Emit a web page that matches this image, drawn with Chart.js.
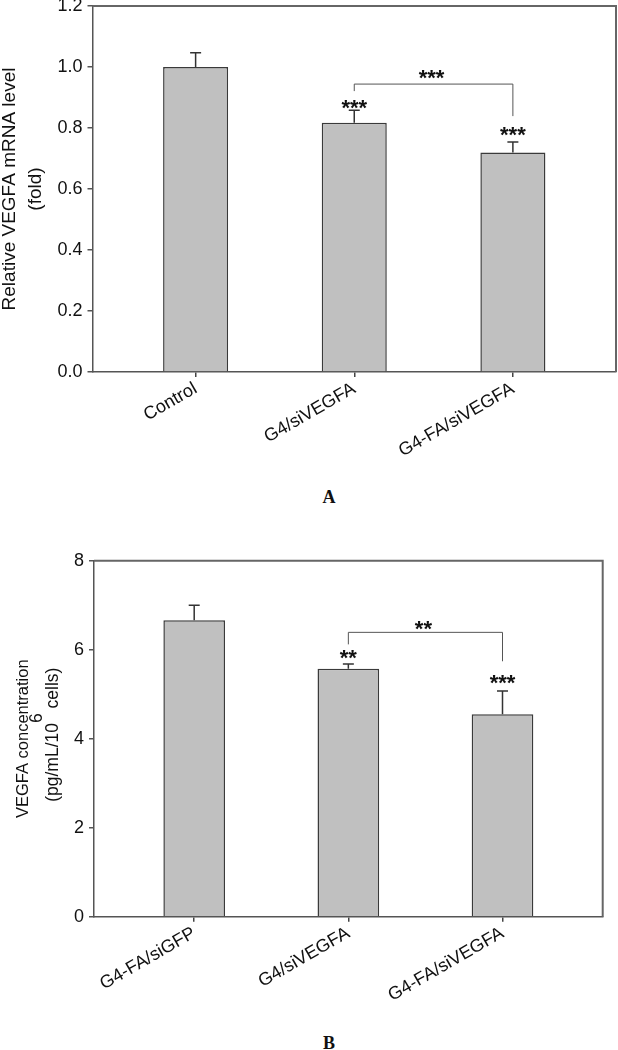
<!DOCTYPE html>
<html><head><meta charset="utf-8">
<script src="https://cdn.jsdelivr.net/npm/chart.js@4.4.1/dist/chart.umd.min.js"></script>
<style>
html,body{margin:0;padding:0;background:#fff;width:618px;height:1050px;overflow:hidden;position:relative}
canvas{position:absolute;left:0}
#c1{top:0}
#c2{top:540px}
.lab{position:absolute;font-family:"Liberation Serif","Times New Roman",serif;font-weight:bold;font-size:18px;color:#111;transform:translate(-50%,-50%);line-height:1}
</style></head>
<body>
<canvas id="c1" width="618" height="470"></canvas>
<div class="lab" style="left:329px;top:497px">A</div>
<canvas id="c2" width="618" height="475"></canvas>
<div class="lab" style="left:329px;top:1043px">B</div>
<script>
// ---------- Data: panel A ----------
const catsA = ['Control', 'G4/siVEGFA', 'G4-FA/siVEGFA'];
const meansA = [1.0, 0.817, 0.72];
const errsA = [0.047, 0.041, 0.034];
const ticksA = [0, 0.2, 0.4, 0.6, 0.8, 1.0, 1.2];
const sigA = ['', '***', '***'];
const sigYA = [null, 0.882, 0.793];
const bracketA = { from: 1, to: 2, y: 0.944, leftEnd: 0.921, rightEnd: 0.839, label: '***', labelY: 0.98 };

// ---------- Data: panel B ----------
const catsB = ['G4-FA/siGFP', 'G4/siVEGFA', 'G4-FA/siVEGFA'];
const meansB = [6.66, 5.57, 4.55];
const errsB = [0.34, 0.11, 0.52];
const ticksB = [0, 2, 4, 6, 8];
const sigB = ['', '**', '***'];
const sigYB = [null, 5.93, 5.37];
const bracketB = { from: 1, to: 2, y: 6.39, leftEnd: 6.12, rightEnd: 5.74, label: '**', labelY: 6.58 };

const positions = [0, 1, 2];

function overlay(cfg) {
  return {
    id: 'overlay',
    afterDatasetsDraw(chart) {
      const ctx = chart.ctx, ca = chart.chartArea;
      const xs = chart.scales.x, ys = chart.scales.y;
      ctx.save();
      // error bars
      ctx.strokeStyle = '#333'; ctx.lineWidth = 1.5;
      cfg.means.forEach((m, i) => {
        const px = xs.getPixelForValue(positions[i]);
        const y0 = ys.getPixelForValue(m);
        const y1 = ys.getPixelForValue(m + cfg.errs[i]);
        ctx.beginPath();
        ctx.moveTo(px, y0); ctx.lineTo(px, y1);
        ctx.moveTo(px - 5.5, y1); ctx.lineTo(px + 5.5, y1);
        ctx.stroke();
      });
      // significance stars
      const fs = 22;
      ctx.fillStyle = '#111';
      ctx.font = 'bold ' + fs + 'px "Liberation Sans", Arial, sans-serif';
      ctx.textAlign = 'center'; ctx.textBaseline = 'alphabetic';
      cfg.sig.forEach((s, i) => {
        if (!s) return;
        const px = xs.getPixelForValue(positions[i]);
        const py = ys.getPixelForValue(cfg.sigY[i]);
        ctx.fillText(s, px, py + 0.56 * fs);
      });
      // bracket
      const b = cfg.bracket;
      const bx1 = xs.getPixelForValue(b.from), bx2 = xs.getPixelForValue(b.to);
      const by = ys.getPixelForValue(b.y);
      ctx.strokeStyle = '#555'; ctx.lineWidth = 1;
      ctx.beginPath();
      ctx.moveTo(bx1, ys.getPixelForValue(b.leftEnd));
      ctx.lineTo(bx1, by); ctx.lineTo(bx2, by);
      ctx.lineTo(bx2, ys.getPixelForValue(b.rightEnd));
      ctx.stroke();
      ctx.fillText(b.label, (bx1 + bx2) / 2 - 2, ys.getPixelForValue(b.labelY) + 0.56 * fs);
      // box top/right
      ctx.strokeStyle = '#666'; ctx.lineWidth = 2;
      ctx.beginPath();
      ctx.moveTo(ca.left, ca.top); ctx.lineTo(ca.right, ca.top); ctx.lineTo(ca.right, ca.bottom);
      ctx.stroke();
      // y title
      const yc = (ca.top + ca.bottom) / 2;
      ctx.fillStyle = '#111';
      cfg.titleLines.forEach(line => {
        ctx.save();
        ctx.translate(line.x, yc + (line.dy || 0));
        ctx.rotate(-Math.PI / 2);
        ctx.font = line.size + 'px "Liberation Sans", Arial, sans-serif';
        ctx.textBaseline = 'alphabetic';
        ctx.textAlign = 'left';
        let total = 0;
        line.parts.forEach(p => { total += ctx.measureText(p.t).width; });
        let cx = -total / 2;
        line.parts.forEach(p => {
          ctx.fillText(p.t, cx, p.sup ? -line.supRaise : 0);
          cx += ctx.measureText(p.t).width;
        });
        ctx.restore();
      });
      ctx.restore();
    }
  };
}

function makeChart(id, cfg) {
  return new Chart(document.getElementById(id), {
    type: 'bar',
    data: {
      datasets: [{
        data: positions.map((x, i) => ({ x: x, y: cfg.means[i] })),
        backgroundColor: '#c0c0c0',
        borderColor: '#3a3a3a',
        borderWidth: 1.5,
        barPercentage: cfg.barPct,
        categoryPercentage: 1
      }]
    },
    options: {
      responsive: false,
      animation: false,
      devicePixelRatio: 1,
      layout: { padding: { top: cfg.padTop, right: cfg.padRight, left: 0, bottom: 0 } },
      plugins: { legend: { display: false }, tooltip: { enabled: false } },
      scales: {
        x: {
          type: 'linear', min: -0.65, max: 2.65, offset: false,
          afterBuildTicks(s) { s.ticks = positions.map(v => ({ value: v })); },
          afterFit(s) { s.height = cfg.xAxisH; s.paddingLeft = 0; s.paddingRight = 0; },
          ticks: {
            callback: (v) => cfg.cats[v] !== undefined ? cfg.cats[v] : '',
            minRotation: 30, maxRotation: 30, autoSkip: false,
            font: { family: '"Liberation Sans", Arial, sans-serif', size: 18 },
            color: '#111', padding: 1
          },
          grid: { display: true, offset: false, drawOnChartArea: false, drawTicks: true, tickLength: 5, color: '#444', lineWidth: 1.5 },
          border: { display: true, color: '#555', width: 1.5 }
        },
        y: {
          min: 0, max: cfg.yMax,
          afterBuildTicks(s) { s.ticks = cfg.yTicks.map(v => ({ value: v })); },
          afterFit(s) { s.width = cfg.yAxisW; s.paddingTop = 0; s.paddingBottom = 0; },
          ticks: {
            callback: cfg.fmt,
            font: { family: '"Liberation Sans", Arial, sans-serif', size: cfg.tickSize },
            color: '#111', padding: 5
          },
          grid: { display: true, drawOnChartArea: false, drawTicks: true, tickLength: 5, color: '#555', lineWidth: 1.5 },
          border: { display: true, color: '#555', width: 1.5 }
        }
      }
    },
    plugins: [overlay(cfg)]
  });
}

makeChart('c1', {
  cats: catsA, means: meansA, errs: errsA, yTicks: ticksA, yMax: 1.2,
  sig: sigA, sigY: sigYA, bracket: bracketA,
  fmt: v => Number(v).toFixed(1), tickSize: 18,
  barPct: 0.41, padTop: 6, padRight: 2, yAxisW: 92.5, xAxisH: 98,
  titleLines: [
    { x: 15, size: 19, parts: [{ t: 'Relative VEGFA mRNA level' }] },
    { x: 41, size: 19, parts: [{ t: '(fold)' }] }
  ]
});

makeChart('c2', {
  cats: catsB, means: meansB, errs: errsB, yTicks: ticksB, yMax: 8,
  sig: sigB, sigY: sigYB, bracket: bracketB,
  fmt: v => String(v), tickSize: 18,
  barPct: 0.40, padTop: 20.7, padRight: 15.3, yAxisW: 94, xAxisH: 98.3,
  titleLines: [
    { x: 28, size: 16.5, parts: [{ t: 'VEGFA concentration' }] },
    { x: 58, size: 17.5, supRaise: 16, dy: -4, parts: [{ t: '(pg/mL/10' }, { t: '6', sup: true }, { t: ' cells)' }] }
  ]
});
</script>
</body></html>
